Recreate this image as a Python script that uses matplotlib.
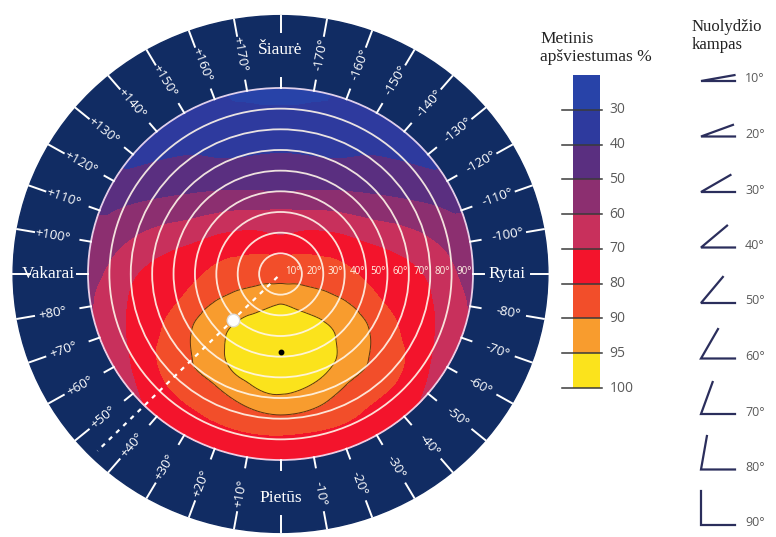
import numpy as np
import matplotlib.pyplot as plt
import matplotlib.tri as mtri
from matplotlib.patches import Circle

# panel tilt (deg) -> radius of the diagram
tilts = [0, 10, 20, 30, 40, 50, 60, 70, 80, 90]

# annual irradiation, % of the optimum
# (0 = south, 180 = north, the east and west halves are mirror images)
azimuths = [0, 30, 45, 60, 75, 90, 120, 150, 180]
irr_az0 = [87, 93, 97, 99.5, 99.8, 97, 94.6, 88.5, 77.5, 71]
irr_az30 = [87, 91.8, 94.6, 97.3, 97.5, 95, 91, 84.5, 78, 71.5]
irr_az45 = [87, 91, 93, 94.5, 94, 92, 89.5, 84, 76.5, 70]
irr_az60 = [87, 90, 91.5, 92.5, 91.5, 88.5, 83, 78, 71, 63]
irr_az75 = [87, 88.5, 88.5, 87, 84, 79.5, 76.5, 72.5, 66.5, 60]
irr_az90 = [87, 87, 85.5, 82.5, 78.5, 75.5, 72.5, 68, 61.5, 57]
irr_az120 = [87, 84, 79, 74, 67.5, 61, 55.5, 50.5, 46, 42]
irr_az150 = [87, 80.5, 73, 65, 55.5, 47.5, 42, 38.5, 35, 32]
irr_az180 = [87, 79, 69, 61, 50, 44.5, 39, 35, 30.5, 28.5]

# colour classes of the scale
scale_ticks = [30, 40, 50, 60, 70, 80, 90, 95, 100]
band_colors = ['#2843a8', '#2e3a9e', '#5a2f80', '#8c2f70', '#c8305c',
               '#f3142c', '#f24e2a', '#f89c2e', '#fbe31c']

# optimum and example orientation (azimuth, tilt)
opt_az, opt_tilt = 0, 37.5
ex_az, ex_tilt = 45, 31.5

# legend of tilt angles
legend_tilts = [10, 20, 30, 40, 50, 60, 70, 80, 90]

cardinals = {180: 'Šiaurė', 0: 'Pietūs', 90: 'Vakarai', -90: 'Rytai'}

W, H = 776, 537
navy = '#112c63'

fig = plt.figure(figsize=(W / 100, H / 100), dpi=100)

#main diagram axes, tilt units, slightly wider than tall like the original
cx, cy = 280.5, 274
sx, sy = 2.139, 2.067
ax = fig.add_axes([0, 0, 560 / W, 1])
ax.set_xlim(-cx / sx, (560 - cx) / sx)
ax.set_ylim(-(H - cy) / sy, cy / sy)
ax.axis('off')


def xy(az, r):
    a = np.radians(az)
    return -r * np.sin(a), -r * np.cos(a)


ax.add_patch(Circle((0, 0), 125, color=navy, zorder=0))

#points of the value table in the plane (one shared centre point)
profiles = [irr_az0, irr_az30, irr_az45, irr_az60, irr_az75, irr_az90,
            irr_az120, irr_az150, irr_az180]
az_full = [-a for a in azimuths[::-1]] + azimuths[1:]
z_cols = profiles[::-1] + profiles[1:]

px_list, py_list, vals = [0.0], [0.0], [irr_az0[0]]
for a, col in zip(az_full[:-1], z_cols[:-1]):
    for t, v in zip(tilts[1:], col[1:]):
        x, y = xy(a, t)
        px_list.append(x)
        py_list.append(y)
        vals.append(v)
vals = np.array(vals, dtype=float)

tri = mtri.Triangulation(px_list, py_list)
interp = mtri.CubicTriInterpolator(tri, vals, kind='min_E')
tri_r, z_r = mtri.UniformTriRefiner(tri).refine_field(vals, triinterpolator=interp, subdiv=4)

#put the outer edge of the refined mesh on the 90 deg circle
xr, yr = tri_r.x.copy(), tri_r.y.copy()
nb = tri_r.neighbors
trs = tri_r.triangles
edge = set()
for i, j in zip(*np.where(nb == -1)):
    edge.add(trs[i, j])
    edge.add(trs[i, (j + 1) % 3])
edge = np.array(sorted(edge))
rr = np.hypot(xr[edge], yr[edge])
xr[edge] *= tilts[-1] / rr
yr[edge] *= tilts[-1] / rr
tri_xy = mtri.Triangulation(xr, yr, trs)

levels = [0] + scale_ticks[:-1] + [110]
ax.tricontourf(tri_xy, z_r, levels=levels, colors=band_colors, zorder=1)
ax.tricontour(tri_xy, z_r, levels=[90, 95], colors='#5e3212', linewidths=0.7, zorder=2)

#tilt rings
for t in tilts[1:]:
    ec = '#f4e0f4' if t == 90 else '#fff6ea'
    ax.add_patch(Circle((0, 0), t, fill=False, ec=ec, lw=1.3, alpha=0.9, zorder=3))
    ax.text(t - 0.6, 1.0, f'{t}°', ha='right', va='center', fontsize=7,
            color='#fff4e4', family='Open Sans', zorder=4)

#dotted line and the points
lx, ly = xy(ex_az, np.array([2, 121]))
ax.plot(lx, ly, color='white', lw=1.6, ls=(0, (2, 2.5)), zorder=4)
px_, py_ = xy(ex_az, ex_tilt)
ax.plot(px_, py_, 'o', ms=9, mfc='white', mec='#dddddd', zorder=5)
ox, oy = xy(opt_az, opt_tilt)
ax.plot(ox, oy, 'o', ms=3.2, color='black', zorder=5)

#azimuth ticks and labels
for a in range(-180, 180, 10):
    x1, y1 = xy(a, np.array([90, 95]))
    ax.plot(x1, y1, color='white', lw=1.4, zorder=4)
    x2, y2 = xy(a, np.array([117, 125]))
    ax.plot(x2, y2, color='white', lw=1.4, zorder=4)
    if a % 90 == 0:
        continue
    tx, ty = xy(a, 108)
    rot = np.degrees(np.arctan2(ty * sy, tx * sx))
    if rot > 90:
        rot -= 180
    elif rot <= -90:
        rot += 180
    ax.text(tx, ty, f'{a:+d}°', rotation=rot, rotation_mode='anchor',
            ha='center', va='center', fontsize=9.5, color='white',
            family='Open Sans', zorder=4)

for a, name in cardinals.items():
    r = 106 if a == -90 else 108.5
    tx, ty = xy(a, r)
    ax.text(tx, ty, name, ha='center', va='center', fontsize=12.5,
            color='white', family='Liberation Serif', zorder=4)

#colour scale
cax = fig.add_axes([573 / W, 1 - 388 / H, 27 / W, (388 - 75) / H])
n = len(band_colors)
for i, c in enumerate(band_colors):
    cax.bar(0.5, 1, bottom=i, width=1, color=c)
cax.set_xlim(0, 1)
cax.set_ylim(n, 0)
cax.axis('off')
for i, v in enumerate(scale_ticks):
    cax.plot([-0.4, 1.07], [i + 1, i + 1], color='#3a3a3a', lw=1.1, clip_on=False)
    cax.text(1.35, i + 1, str(v), ha='left', va='center', fontsize=10,
             color='#5a5a5a', family='Open Sans')

#overlay for the titles and the tilt legend (pixel units)
lax = fig.add_axes([0, 0, 1, 1], zorder=-1)
lax.set_xlim(0, W)
lax.set_ylim(H, 0)
lax.axis('off')
lax.patch.set_alpha(0)

lax.text(540, 48, 'Metinis\napšviestumas %', ha='left', va='center', fontsize=12.5,
         family='Liberation Serif', color='#222222', linespacing=1.15)
lax.text(692, 36, 'Nuolydžio\nkampas', ha='left', va='center', fontsize=12,
         family='Liberation Serif', color='#222222', linespacing=1.15)

gl = 34
for i, t in enumerate(legend_tilts):
    y0 = 81 + 55.5 * i
    x0 = 701
    a = np.radians(t)
    lax.plot([x0 + gl * np.cos(a), x0, x0 + gl], [y0 - gl * np.sin(a), y0, y0],
             color='#2b2e5c', lw=1.6, solid_joinstyle='miter')
    lax.text(745, y0 - 2, f'{t}°', ha='left', va='center', fontsize=9,
             color='#5a5a5a', family='Open Sans')

fig.savefig('out.png', dpi=100)
